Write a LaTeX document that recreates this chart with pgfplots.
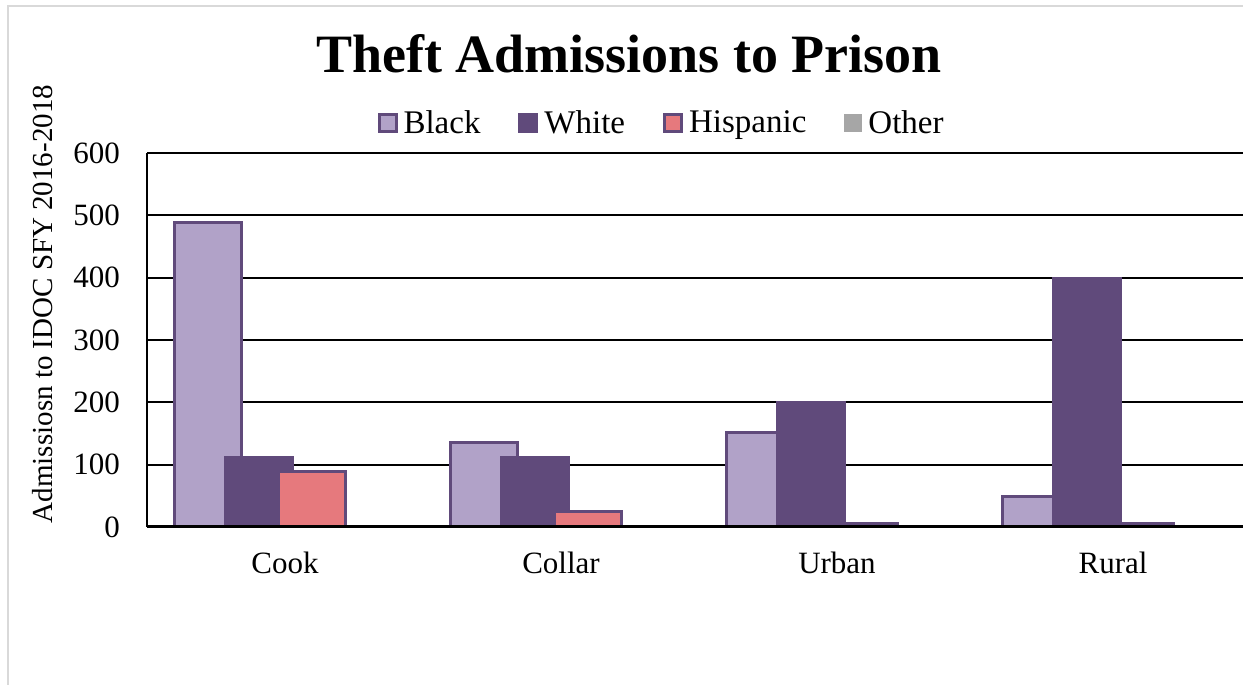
\documentclass[border=0pt]{standalone}
\usepackage{pgfplots}
\pgfplotsset{compat=1.18}
\usepackage{fontspec}
\setmainfont{Liberation Serif}
\definecolor{cBlack}{HTML}{B1A2C8}
\definecolor{cWhite}{HTML}{604A7B}
\definecolor{cHisp}{HTML}{E6797D}
\definecolor{cOther}{HTML}{A6A6A6}
\definecolor{cFrame}{HTML}{D9D9D9}
\begin{document}
\begin{tikzpicture}
\useasboundingbox (0pt,0pt) rectangle (621.5pt,342.5pt);
\draw[cFrame, line width=0.8pt] (4pt,-5pt) -- (4pt,339.5pt) -- (630pt,339.5pt);
\node[anchor=base, font=\fontsize{27}{32}\selectfont\bfseries] at (314.5pt,306pt) {Theft Admissions to Prison};
\node[rotate=90, font=\fontsize{14.5}{17}\selectfont] at (21.5pt,190.5pt) {Admissiosn to IDOC SFY 2016-2018};
\begin{axis}[
  at={(73.5pt,79pt)}, anchor=south west,
  width=548pt, height=187pt, scale only axis,
  xmin=-0.5, xmax=3.471, ymin=0, ymax=600,
  ytick={0,100,200,300,400,500,600},
  xtick={0,1,2,3}, xticklabels={Cook,Collar,Urban,Rural},
  major tick length=0pt,
  axis lines*=left,
  axis line style={black, line width=0.9pt},
  ymajorgrids, grid style={black, line width=0.9pt},
  tick label style={font=\fontsize{15.5}{18}\selectfont},
  /pgf/number format/assume math mode=true,
  yticklabel style={xshift=-10pt},
  xticklabel style={yshift=-9pt},
  ybar, bar width=33.5pt,
  legend columns=4,
  legend style={at={(0.4713,1.08)}, anchor=center, draw=none, fill=none,
    font=\fontsize{16.5}{19}\selectfont,
    nodes={inner xsep=3pt},
    /tikz/every even column/.append style={column sep=16pt}},
  legend image code/.code={\draw[#1] (0pt,-4.25pt) rectangle (8.5pt,4.25pt);},
]
\addplot[fill=cBlack, draw=cWhite, line width=1.5pt, bar shift=-38.5pt] coordinates {(0,489) (1,136) (2,151) (3,49)};
\addplot[fill=cWhite, draw=cWhite, line width=1.5pt, bar shift=-13pt] coordinates {(0,112) (1,111) (2,200) (3,399)};
\addplot[fill=cHisp, draw=cWhite, line width=1.5pt, bar shift=13.5pt] coordinates {(0,89) (1,25) (2,6) (3,6)};
\addplot[fill=cOther, draw=cOther, line width=0.5pt, bar shift=39pt] coordinates {(0,0) (1,0) (2,0) (3,0)};
\legend{Black,White,Hispanic,Other}
\draw[black, line width=1.6pt] (rel axis cs:0,0) -- (rel axis cs:1,0);
\end{axis}
\end{tikzpicture}
\end{document}
